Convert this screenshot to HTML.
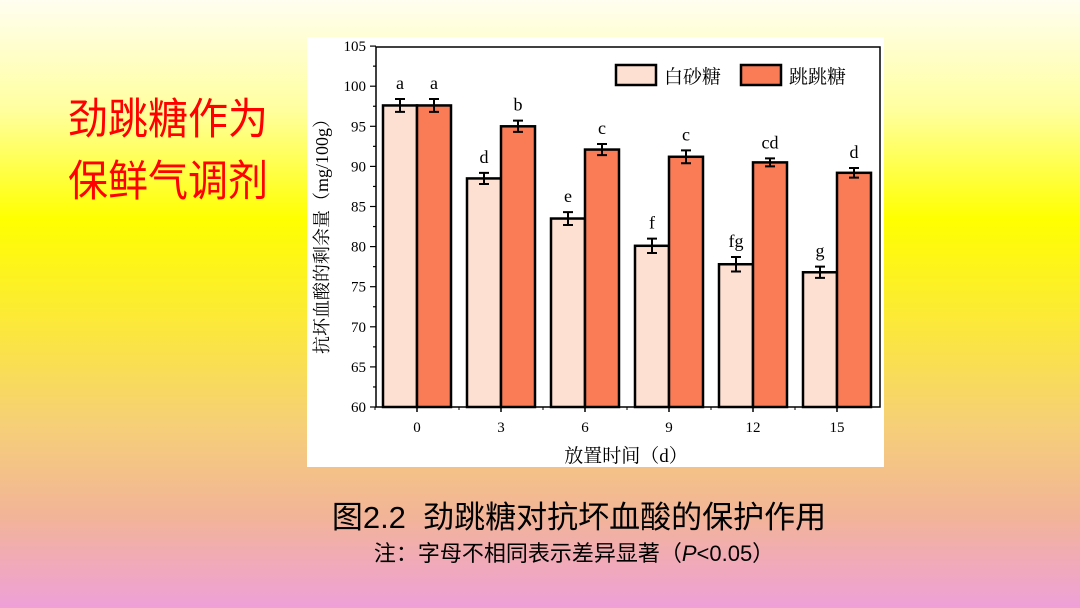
<!DOCTYPE html>
<html><head><meta charset="utf-8"><style>
body{margin:0;width:1080px;height:608px;overflow:hidden;background:linear-gradient(to bottom,#fffef0 0%,#ffffa0 18%,#ffff00 36%,#fbe640 55%,#f6cf78 70%,#f2b498 85%,#eea0d8 100%);font-family:"Liberation Sans","Noto Sans CJK SC",sans-serif;position:relative}
.t{position:absolute;color:#ff0000;font-size:40px;left:68px;line-height:44px;transform:scaleY(1.08);transform-origin:0 0}
</style></head><body>
<div class="t" style="top:96px">劲跳糖作为</div>
<div class="t" style="top:158px">保鲜气调剂</div>
<div style="position:absolute;left:0;width:1158px;top:492px;text-align:center;font-size:31px;color:#000">图2.2&nbsp; 劲跳糖对抗坏血酸的保护作用</div>
<div style="position:absolute;left:0;width:1148px;top:536px;text-align:center;font-size:22px;color:#000">注：字母不相同表示差异显著（<i>P</i>&lt;0.05）</div>
<svg style="position:absolute;left:0;top:0" width="1080" height="608" font-family="Liberation Serif,'Noto Serif CJK SC',serif">
<rect x="307" y="37" width="577" height="430" fill="#fff"/>
<g id="bars" stroke="#000" stroke-width="2.5"></g>
<rect x="376" y="47" width="504" height="360" fill="none" stroke="#000" stroke-width="1.5"/>
<rect x="616" y="65" width="40" height="20" fill="#fde0d2" stroke="#000" stroke-width="2.5"/>
<text x="664" y="83" font-size="19">白砂糖</text>
<rect x="741" y="65" width="40" height="20" fill="#f97c56" stroke="#000" stroke-width="2.5"/>
<text x="789" y="83" font-size="19">跳跳糖</text>
<text x="626" y="462" font-size="19" text-anchor="middle">放置时间（d）</text>
<text transform="translate(328,232) rotate(-90)" font-size="18" text-anchor="middle">抗坏血酸的剩余量（mg/100g）</text>
</svg>
<script>
var ns="http://www.w3.org/2000/svg",svg=document.querySelector('svg');
function el(t,a,p,tx){var e=document.createElementNS(ns,t);for(var k in a)e.setAttribute(k,a[k]);if(tx)e.textContent=tx;(p||svg).appendChild(e);return e}
function Y(v){return 407-(v-60)*8.02}
var L=[97.6,88.5,83.5,80.1,77.8,76.8],O=[97.6,95.0,92.1,91.2,90.5,89.2],
LL=['a','d','e','f','fg','g'],OL=['a','b','c','c','cd','d'],E=[0.8,0.7,0.8,0.9,0.9,0.7],EO=[0.8,0.7,0.7,0.8,0.5,0.6],X=['0','3','6','9','12','15'];
var g=document.getElementById('bars');
for(var i=0;i<6;i++){var c=417+84*i;
el('rect',{x:c-34,y:Y(L[i]),width:34,height:407-Y(L[i]),fill:'#fde0d2'},g);
el('rect',{x:c,y:Y(O[i]),width:34,height:407-Y(O[i]),fill:'#f97c56'},g);
[[c-17,L[i],E[i],LL[i]],[c+17,O[i],EO[i],OL[i]]].forEach(function(b){
var a=Y(b[1]+b[2]),d=Y(b[1]-b[2]);
el('path',{d:'M'+b[0]+' '+a+'V'+d+'M'+(b[0]-5)+' '+a+'h10M'+(b[0]-5)+' '+d+'h10',stroke:'#000','stroke-width':2,fill:'none'});
el('text',{x:b[0],y:a-10,'font-size':18,'text-anchor':'middle'},null,b[3]);});
el('text',{x:c,y:432,'font-size':15,'text-anchor':'middle'},null,X[i]);
el('line',{x1:c,x2:c,y1:407,y2:412,stroke:'#000','stroke-width':1.5});
el('line',{x1:c-42,x2:c-42,y1:407,y2:410,stroke:'#000','stroke-width':1});}
for(var v=60;v<=105;v+=2.5){var y=Y(v);var maj=v%5==0;
el('line',{x1:maj?370:373,x2:376,y1:y,y2:y,stroke:'#000','stroke-width':1.2});
if(maj)el('text',{x:366,y:y+5,'font-size':15,'text-anchor':'end'},null,v);}
</script>
</body></html>
